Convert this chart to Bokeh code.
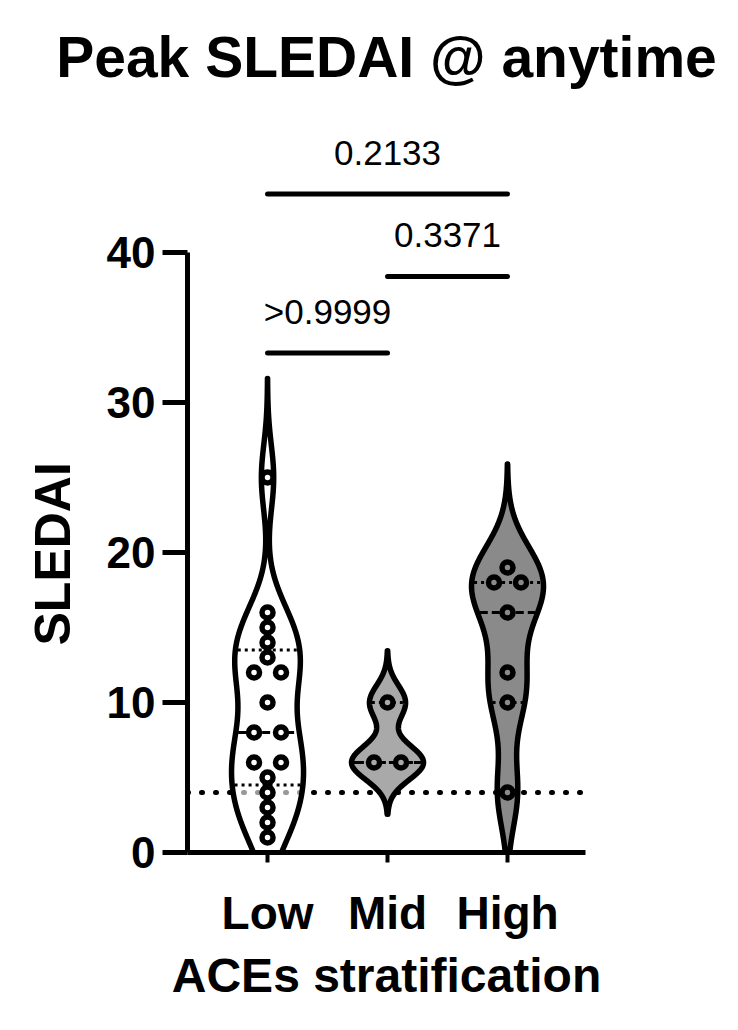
import numpy as np
from bokeh.plotting import figure
from bokeh.models import Range1d, FixedTicker, Span, Title
from bokeh.core.properties import value
from bokeh.embed import file_html
from bokeh.resources import INLINE

# ---------------- data ----------------
categories = ["Low", "Mid", "High"]
low_values = [25, 16, 15, 14, 13, 12, 12, 10, 8, 8, 6, 6, 5, 4, 3, 2, 1]
mid_values = [10, 6, 6]
high_values = [19, 18, 18, 16, 12, 10, 4]
group_values = [low_values, mid_values, high_values]

comparison_pairs = [(1, 2), (2, 3), (1, 3)]
comparison_labels = [">0.9999", "0.3371", "0.2133"]
comparison_levels = [33.3, 38.4, 43.9]

threshold_value = 4
y_ticks = [0, 10, 20, 30, 40]

title_text = "Peak SLEDAI @ anytime"
y_label = "SLEDAI"
x_label = "ACEs stratification"

# ---------------- styles ----------------
bandwidths = [2.2, 1.15, 2.3]
fill_colors = ["#ffffff", "#a9a9a9", "#8a8a8a"]
fill_alphas = [0.6, 1.0, 1.0]
HALF_MAX = 0.30
FONT = "Liberation Sans"

W, H = 730, 1022
p = figure(width=W, height=H,
           x_range=Range1d(0.333, 3.65), y_range=Range1d(0, 49.47),
           output_backend="svg", toolbar_location=None,
           min_border_left=187, min_border_right=W - 585,
           min_border_top=110, min_border_bottom=H - 852)
p.outline_line_color = None
p.grid.visible = False
p.background_fill_color = "white"
p.border_fill_color = "white"

p.title.text = title_text
p.title.align = "center"
p.title.text_font = FONT
p.title.text_font_size = "57px"
p.title.text_font_style = "bold"
p.title.text_color = "black"
p.title.standoff = 44

# threshold line (behind violins)
p.add_layout(Span(location=threshold_value, dimension="width", line_color="black",
                  line_width=5, line_dash="1 13", line_cap="round", level="underlay"))


def kde(vals, h, grid):
    v = np.asarray(vals, dtype=float)
    z = (grid[:, None] - v[None, :]) / h
    return np.exp(-0.5 * z ** 2).sum(axis=1)


def prism_quantile(vals, q):
    s = np.sort(np.asarray(vals, dtype=float))
    n = len(s)
    pos = (n + 1) * q
    lo = int(np.floor(pos))
    frac = pos - lo
    lo = min(max(lo, 1), n)
    hi = min(lo + 1, n)
    return s[lo - 1] + frac * (s[hi - 1] - s[lo - 1])


for i, vals in enumerate(group_values):
    cx = i + 1
    h = bandwidths[i]
    grid = np.linspace(min(vals) - 3 * h, max(vals) + 3 * h, 400)
    d = kde(vals, h, grid)
    dmax = d.max()
    w = HALF_MAX * d / dmax
    xs = np.concatenate([cx + w, (cx - w)[::-1]])
    ys = np.concatenate([grid, grid[::-1]])
    p.patch(xs, ys, fill_color=fill_colors[i], fill_alpha=fill_alphas[i],
            line_color="black", line_width=5.5, line_join="round")

    med = float(np.median(vals))
    q1 = prism_quantile(vals, 0.25)
    q3 = prism_quantile(vals, 0.75)
    for yv, dash in [(med, "8 4"), (q1, "3 4"), (q3, "3 4")]:
        hw = HALF_MAX * kde(vals, h, np.array([yv]))[0] / dmax
        p.segment(x0=[cx - hw + 0.02], y0=[yv], x1=[cx + hw - 0.02], y1=[yv],
                  line_color="black", line_width=3, line_dash=dash)

    # point positions: spread duplicates sideways
    px, py = [], []
    counts = {}
    for v in vals:
        counts[v] = counts.get(v, 0) + 1
    seen = {}
    for v in vals:
        c = counts[v]
        k = seen.get(v, 0)
        seen[v] = k + 1
        px.append(cx + (k - (c - 1) / 2) * 0.225)
        py.append(v)
    p.scatter(px, py, size=11, marker="circle", fill_color=fill_colors[i],
              line_color="black", line_width=5.5)

# significance bars
bx0 = [a for a, b in comparison_pairs]
bx1 = [b for a, b in comparison_pairs]
p.segment(x0=bx0, y0=comparison_levels, x1=bx1, y1=comparison_levels,
          line_color="black", line_width=5, line_cap="round")
p.text(x=[(a + b) / 2 for a, b in comparison_pairs],
       y=[lv + 2.75 for lv in comparison_levels], text=comparison_labels,
       text_font=value(FONT), text_font_size="35px", text_align="center",
       text_baseline="alphabetic", text_color="black")

# axes
ya = p.yaxis[0]
ya.bounds = (0, 40)
ya.ticker = FixedTicker(ticks=y_ticks)
ya.minor_tick_line_color = None
ya.major_tick_out = 25
ya.major_tick_in = 0
ya.axis_line_width = 5
ya.major_tick_line_width = 5
ya.axis_line_color = "black"
ya.major_tick_line_color = "black"
ya.major_label_standoff = 7
ya.major_label_text_font = FONT
ya.major_label_text_font_size = "44px"
ya.major_label_text_font_style = "bold"
ya.major_label_text_color = "black"

# y-axis label, placed along the 0-40 axis span
p.add_layout(Title(text=y_label, align="left", offset=207, standoff=45,
                   text_font=FONT, text_font_size="50px", text_font_style="bold",
                   text_color="black"), "left")

xa = p.xaxis[0]
xa.ticker = FixedTicker(ticks=[1, 2, 3])
xa.major_label_overrides = {i + 1: c for i, c in enumerate(categories)}
xa.minor_tick_line_color = None
xa.major_tick_out = 10
xa.major_tick_in = 0
xa.axis_line_width = 5
xa.major_tick_line_width = 4
xa.axis_line_color = "black"
xa.major_tick_line_color = "black"
xa.major_label_standoff = 24
xa.major_label_text_font = FONT
xa.major_label_text_font_size = "46px"
xa.major_label_text_font_style = "bold"
xa.major_label_text_color = "black"
xa.axis_label = x_label
xa.axis_label_text_font = FONT
xa.axis_label_text_font_size = "48px"
xa.axis_label_text_font_style = "bold"
xa.axis_label_text_color = "black"
xa.axis_label_standoff = 7

open("out.html", "w").write(file_html(p, INLINE))
